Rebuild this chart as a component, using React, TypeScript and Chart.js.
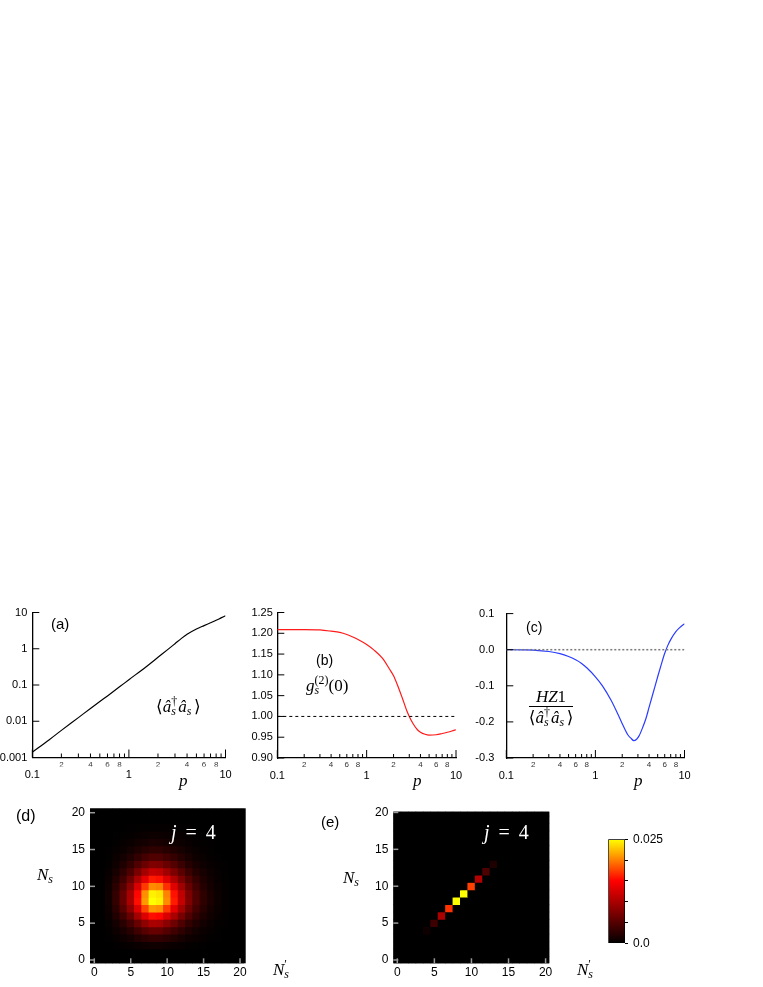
import React, { useEffect, useRef } from 'react';
import { Chart, registerables } from 'chart.js';

Chart.register(...registerables);

// ---------------- data ----------------
// panel (a): mean photon number vs p
const P_A = [0.1, 0.15, 0.2, 0.3, 0.4, 0.5, 0.6, 0.8, 1, 1.5, 2, 2.5, 3, 3.5, 4, 5, 6, 7, 8, 9, 10];
const NS_A = [0.0014, 0.0031, 0.0056, 0.0126, 0.0225, 0.035, 0.05, 0.089, 0.14, 0.315, 0.58, 0.93, 1.38, 1.93, 2.5, 3.5, 4.35, 5.2, 6.1, 7.1, 8.1];

// panel (b): g2(0) vs p
const P_B = [0.1, 0.2, 0.3, 0.4, 0.5, 0.6, 0.7, 0.8, 1, 1.2, 1.5, 1.8, 2, 2.2, 2.5, 2.8, 3, 3.3, 3.7, 4, 4.5, 5, 6, 7, 8, 9, 10];
const G2_B = [1.209, 1.209, 1.208, 1.205, 1.202, 1.197, 1.191, 1.185, 1.173, 1.16, 1.14, 1.114, 1.098, 1.077, 1.045, 1.015, 1.0, 0.983, 0.968, 0.962, 0.957, 0.955, 0.956, 0.959, 0.962, 0.965, 0.968];
const B_REF = 1.0;

// panel (c): HZ1 / <n> vs p
const P_C = [0.1, 0.15, 0.2, 0.3, 0.4, 0.5, 0.6, 0.7, 0.8, 1, 1.2, 1.5, 1.8, 2, 2.3, 2.5, 2.7, 2.9, 3.1, 3.4, 3.7, 4, 4.5, 5, 5.5, 6, 6.5, 7, 8, 9, 10];
const HZ_C = [0, -0.0003, -0.001, -0.005, -0.011, -0.019, -0.028, -0.038, -0.05, -0.075, -0.1, -0.14, -0.18, -0.205, -0.235, -0.245, -0.252, -0.248, -0.238, -0.215, -0.19, -0.16, -0.115, -0.075, -0.04, -0.01, 0.012, 0.028, 0.05, 0.063, 0.072];
const C_REF = 0.0;

// log x axis ticks
const X_TICKS = [0.1, 0.2, 0.3, 0.4, 0.5, 0.6, 0.7, 0.8, 0.9, 1, 2, 3, 4, 5, 6, 7, 8, 9, 10];
const X_MINOR_TEXT = ['', '2', '', '4', '', '6', '', '8', '', '', '2', '', '4', '', '6', '', '8', '', ''];
const X_MAJOR = [0.1, 1, 10];
const X_MAJOR_TEXT = ['0.1', '1', '10'];

const A_Y_TICKS = [0.001, 0.01, 0.1, 1, 10];
const A_Y_TEXT = ['0.001', '0.01', '0.1', '1', '10'];
const B_Y_TICKS = [0.9, 0.95, 1.0, 1.05, 1.1, 1.15, 1.2, 1.25];
const B_Y_TEXT = ['0.90', '0.95', '1.00', '1.05', '1.10', '1.15', '1.20', '1.25'];
const C_Y_TICKS = [-0.3, -0.2, -0.1, 0, 0.1];
const C_Y_TEXT = ['-0.3', '-0.2', '-0.1', '0.0', '0.1'];

// heat maps: photon-number distributions (units of 1e-3), row = N_s, column = N'_s
const N_VALUES = [0, 1, 2, 3, 4, 5, 6, 7, 8, 9, 10, 11, 12, 13, 14, 15, 16, 17, 18, 19, 20];
const HEAT_TICKS = [0, 5, 10, 15, 20];
const Z = [0, 0, 0, 0, 0, 0, 0, 0, 0, 0, 0, 0, 0, 0, 0, 0, 0, 0, 0, 0, 0];
const DIST_D = [
  Z,
  Z,
  [0, 0, 0.04, 0.12, 0.24, 0.4, 0.62, 0.84, 1.0, 0.98, 0.82, 0.64, 0.46, 0.3, 0.19, 0.11, 0.06, 0.03, 0.01, 0, 0],
  [0, 0, 0.12, 0.36, 0.72, 1.2, 1.86, 2.52, 3.0, 2.94, 2.46, 1.92, 1.38, 0.9, 0.57, 0.33, 0.18, 0.09, 0.04, 0, 0],
  [0, 0, 0.24, 0.72, 1.44, 2.4, 3.72, 5.04, 6.0, 5.88, 4.92, 3.84, 2.76, 1.8, 1.14, 0.66, 0.36, 0.18, 0.07, 0, 0],
  [0, 0, 0.4, 1.2, 2.4, 4.0, 6.2, 8.4, 10.0, 9.8, 8.2, 6.4, 4.6, 3.0, 1.9, 1.1, 0.6, 0.3, 0.12, 0, 0],
  [0, 0, 0.62, 1.86, 3.72, 6.2, 9.61, 13.02, 15.5, 15.19, 12.71, 9.92, 7.13, 4.65, 2.95, 1.71, 0.93, 0.47, 0.19, 0, 0],
  [0, 0, 0.84, 2.52, 5.04, 8.4, 13.02, 17.64, 21.0, 20.58, 17.22, 13.44, 9.66, 6.3, 3.99, 2.31, 1.26, 0.63, 0.25, 0, 0],
  [0, 0, 1.0, 3.0, 6.0, 10.0, 15.5, 21.0, 25.0, 24.5, 20.5, 16.0, 11.5, 7.5, 4.75, 2.75, 1.5, 0.75, 0.3, 0, 0],
  [0, 0, 0.98, 2.94, 5.88, 9.8, 15.19, 20.58, 24.5, 24.01, 20.09, 15.68, 11.27, 7.35, 4.66, 2.7, 1.47, 0.74, 0.29, 0, 0],
  [0, 0, 0.82, 2.46, 4.92, 8.2, 12.71, 17.22, 20.5, 20.09, 16.81, 13.12, 9.43, 6.15, 3.9, 2.26, 1.23, 0.62, 0.25, 0, 0],
  [0, 0, 0.64, 1.92, 3.84, 6.4, 9.92, 13.44, 16.0, 15.68, 13.12, 10.24, 7.36, 4.8, 3.04, 1.76, 0.96, 0.48, 0.19, 0, 0],
  [0, 0, 0.46, 1.38, 2.76, 4.6, 7.13, 9.66, 11.5, 11.27, 9.43, 7.36, 5.29, 3.45, 2.19, 1.27, 0.69, 0.35, 0.14, 0, 0],
  [0, 0, 0.3, 0.9, 1.8, 3.0, 4.65, 6.3, 7.5, 7.35, 6.15, 4.8, 3.45, 2.25, 1.43, 0.83, 0.45, 0.23, 0.09, 0, 0],
  [0, 0, 0.19, 0.57, 1.14, 1.9, 2.95, 3.99, 4.75, 4.66, 3.9, 3.04, 2.19, 1.43, 0.9, 0.52, 0.29, 0.14, 0.06, 0, 0],
  [0, 0, 0.11, 0.33, 0.66, 1.1, 1.71, 2.31, 2.75, 2.7, 2.26, 1.76, 1.27, 0.83, 0.52, 0.3, 0.17, 0.08, 0.03, 0, 0],
  [0, 0, 0.06, 0.18, 0.36, 0.6, 0.93, 1.26, 1.5, 1.47, 1.23, 0.96, 0.69, 0.45, 0.29, 0.17, 0.09, 0.05, 0.02, 0, 0],
  [0, 0, 0.03, 0.09, 0.18, 0.3, 0.47, 0.63, 0.75, 0.74, 0.62, 0.48, 0.35, 0.23, 0.14, 0.08, 0.05, 0.02, 0.01, 0, 0],
  [0, 0, 0.01, 0.04, 0.07, 0.12, 0.19, 0.25, 0.3, 0.29, 0.25, 0.19, 0.14, 0.09, 0.06, 0.03, 0.02, 0.01, 0, 0, 0],
  Z,
  Z,
];
// panel (e): only diagonal cells N_s = N'_s are populated
const DIAG_E_N = [4, 5, 6, 7, 8, 9, 10, 11, 12, 13];
const DIAG_E_VAL = [0.8, 3.5, 10, 17, 25, 25.5, 17.5, 10.5, 4.5, 1.8];

// colour bar (units of 1e-3)
const CB_MAX = 25;
const CB_TICKS = [0, 5, 10, 15, 20, 25];
const CB_TEXT = ['0.0', '', '', '', '', '0.025'];

// ---------------- styling helpers ----------------
const SANS = '"Liberation Sans", Arial, Helvetica, sans-serif';
const SERIF = '"Liberation Serif", "DejaVu Serif", "Times New Roman", serif';

function heatColor(v: number) {
  const t = Math.max(0, Math.min(1, v / CB_MAX));
  const r = Math.round(255 * Math.min(1, t / 0.6));
  const g = Math.round(255 * Math.max(0, (t - 0.6) / 0.4));
  return `rgb(${r},${g},0)`;
}

const inTicks = {
  id: 'inTicks',
  afterDatasetsDraw(chart: any, _args: any, opts: any) {
    const { ctx, chartArea } = chart;
    if (!chartArea) return;
    ctx.save();
    ctx.strokeStyle = opts.color || '#000';
    ctx.lineWidth = opts.width || 1;
    const xs = chart.scales.x;
    const ys = chart.scales.y;
    (opts.x || []).forEach(([v, len]: [number, number]) => {
      const px = xs.getPixelForValue(v);
      ctx.beginPath();
      ctx.moveTo(px, chartArea.bottom);
      ctx.lineTo(px, chartArea.bottom - len);
      ctx.stroke();
    });
    (opts.y || []).forEach(([v, len]: [number, number]) => {
      const py = ys.getPixelForValue(v);
      ctx.beginPath();
      ctx.moveTo(chartArea.left, py);
      ctx.lineTo(chartArea.left + len, py);
      ctx.stroke();
    });
    ctx.restore();
  },
};

const plotBg = {
  id: 'plotBg',
  beforeDatasetsDraw(chart: any, _args: any, opts: any) {
    const { ctx, chartArea } = chart;
    if (!chartArea || !opts.color) return;
    ctx.save();
    ctx.fillStyle = opts.color;
    ctx.fillRect(chartArea.left, chartArea.top, chartArea.right - chartArea.left, chartArea.bottom - chartArea.top);
    ctx.restore();
  },
};

function lineConfig(p: any) {
  return {
    type: 'line',
    data: { datasets: p.datasets },
    options: {
      responsive: false,
      animation: false,
      events: [],
      layout: { padding: { left: 0, top: p.padTop, right: p.padRight, bottom: 0 } },
      plugins: {
        legend: { display: false },
        tooltip: { enabled: false },
        inTicks: {
          color: '#000',
          width: 1,
          x: X_TICKS.map((v) => [v, X_MAJOR.includes(v) ? 8 : 4]),
          y: p.yTicks.map((v: number) => [v, 7]),
        },
      },
      scales: {
        x: {
          type: 'logarithmic',
          position: 'bottom',
          weight: 0,
          min: 0.1,
          max: 10,
          afterBuildTicks: (s: any) => {
            s.ticks = X_TICKS.map((v) => ({ value: v }));
          },
          afterFit: (s: any) => {
            s.height = p.hMinor;
          },
          grid: { display: false, drawTicks: false },
          border: { display: true, color: '#000', width: 1.3 },
          ticks: {
            autoSkip: false,
            maxRotation: 0,
            padding: 2,
            color: '#333',
            font: { family: SANS, size: 8 },
            callback: (_v: any, i: number) => X_MINOR_TEXT[i],
          },
        },
        x2: {
          type: 'logarithmic',
          position: 'bottom',
          axis: 'x',
          weight: 1,
          min: 0.1,
          max: 10,
          afterBuildTicks: (s: any) => {
            s.ticks = X_MAJOR.map((v) => ({ value: v }));
          },
          afterFit: (s: any) => {
            s.height = p.hMajor;
          },
          grid: { display: false, drawTicks: false },
          border: { display: false },
          ticks: {
            autoSkip: false,
            maxRotation: 0,
            padding: 2,
            color: '#000',
            font: { family: SANS, size: 11 },
            callback: (_v: any, i: number) => X_MAJOR_TEXT[i],
          },
        },
        y: {
          type: p.yType,
          position: 'left',
          min: p.yMin,
          max: p.yMax,
          afterBuildTicks: (s: any) => {
            s.ticks = p.yTicks.map((v: number) => ({ value: v }));
          },
          afterFit: (s: any) => {
            s.width = p.yWidth;
          },
          grid: { display: false, drawTicks: false },
          border: { display: true, color: '#000', width: 1.3 },
          ticks: {
            autoSkip: false,
            padding: p.yPad,
            color: '#000',
            font: { family: SANS, size: 11 },
            callback: (_v: any, i: number) => p.yText[i],
          },
        },
      },
    },
    plugins: [inTicks],
  };
}

function heatConfig(p: any) {
  const data: any[] = [];
  const colors: string[] = [];
  N_VALUES.forEach((m) => {
    N_VALUES.forEach((n) => {
      data.push({ x: n, y: [m - 0.5, m + 0.5] });
      colors.push(heatColor(p.matrix[m][n]));
    });
  });
  return {
    type: 'bar',
    data: {
      datasets: [
        {
          data,
          backgroundColor: colors,
          borderWidth: 0,
          categoryPercentage: 1,
          barPercentage: 1,
        },
      ],
    },
    options: {
      responsive: false,
      animation: false,
      events: [],
      layout: { padding: { left: 0, top: p.padTop, right: p.padRight, bottom: 0 } },
      plugins: {
        legend: { display: false },
        tooltip: { enabled: false },
        plotBg: { color: '#000' },
        inTicks: {
          color: '#9a9a9a',
          width: 1.5,
          x: HEAT_TICKS.map((v) => [v, 5]),
          y: HEAT_TICKS.map((v) => [v, 5]),
        },
      },
      scales: {
        x: {
          type: 'linear',
          position: 'bottom',
          offset: false,
          min: p.xMin,
          max: p.xMax,
          afterBuildTicks: (s: any) => {
            s.ticks = HEAT_TICKS.map((v) => ({ value: v }));
          },
          afterFit: (s: any) => {
            s.height = p.xHeight;
          },
          grid: { display: false, drawTicks: false },
          border: { display: false },
          ticks: {
            autoSkip: false,
            maxRotation: 0,
            padding: 2,
            color: '#000',
            font: { family: SANS, size: 12 },
            callback: (v: any) => String(v),
          },
        },
        y: {
          type: 'linear',
          position: 'left',
          min: p.yMin,
          max: p.yMax,
          afterBuildTicks: (s: any) => {
            s.ticks = HEAT_TICKS.map((v) => ({ value: v }));
          },
          afterFit: (s: any) => {
            s.width = p.yWidth;
          },
          grid: { display: false, drawTicks: false },
          border: { display: false },
          ticks: {
            autoSkip: false,
            padding: 5,
            color: '#000',
            font: { family: SANS, size: 12 },
            callback: (v: any) => String(v),
          },
        },
      },
    },
    plugins: [plotBg, inTicks],
  };
}

function colorbarConfig() {
  return {
    type: 'bar',
    data: {
      labels: [''],
      datasets: [
        {
          data: [[0, CB_MAX]],
          backgroundColor: (c: any) => {
            const ch = c.chart;
            if (!ch.chartArea) return '#000';
            const y = ch.scales.y;
            const g = ch.ctx.createLinearGradient(0, y.getPixelForValue(0), 0, y.getPixelForValue(CB_MAX));
            [0, 0.6, 1].forEach((t) => g.addColorStop(t, heatColor(t * CB_MAX)));
            return g;
          },
          borderColor: '#000',
          borderWidth: 1,
          borderSkipped: false,
          categoryPercentage: 1,
          barPercentage: 1,
        },
      ],
    },
    options: {
      responsive: false,
      animation: false,
      events: [],
      layout: { padding: { left: 18.3, top: 19.3, right: 0, bottom: 16.7 } },
      plugins: { legend: { display: false }, tooltip: { enabled: false } },
      scales: {
        x: { display: false, offset: true },
        y: {
          position: 'right',
          min: 0,
          max: CB_MAX,
          afterBuildTicks: (s: any) => {
            s.ticks = CB_TICKS.map((v) => ({ value: v }));
          },
          afterFit: (s: any) => {
            s.width = 75;
          },
          grid: { display: true, drawOnChartArea: false, drawTicks: true, tickLength: 3, color: '#000' },
          border: { display: false },
          ticks: {
            autoSkip: false,
            padding: 5,
            color: '#000',
            font: { family: SANS, size: 12 },
            callback: (_v: any, i: number) => CB_TEXT[i],
          },
        },
      },
    },
  };
}

// ---------------- text helpers ----------------
function Txt({ x, y, size, font, color, children, style }: any) {
  return (
    <div
      style={{
        position: 'absolute',
        left: x,
        top: y,
        fontSize: size,
        lineHeight: `${size}px`,
        fontFamily: font,
        color: color || '#000',
        whiteSpace: 'nowrap',
        ...style,
      }}
    >
      {children}
    </div>
  );
}

function SS({ size, sup, sub, w }: any) {
  const s = size * 0.7;
  return (
    <span style={{ position: 'relative', display: 'inline-block', width: w, height: 0 }}>
      {sup != null && (
        <span style={{ position: 'absolute', left: 0, top: -size * 0.97, fontSize: s, lineHeight: `${s}px` }}>{sup}</span>
      )}
      {sub != null && (
        <span style={{ position: 'absolute', left: 0, top: -size * 0.35, fontSize: s, lineHeight: `${s}px` }}>{sub}</span>
      )}
    </span>
  );
}

function NumOp({ size }: any) {
  return (
    <span>
      ⟨<i>â</i>
      <SS size={size} sup="†" sub={<i>s</i>} w={size * 0.42} />
      <i>â</i>
      <SS size={size} sub={<i>s</i>} w={size * 0.42} />⟩
    </span>
  );
}

export default function App() {
  const rA = useRef<HTMLCanvasElement>(null);
  const rB = useRef<HTMLCanvasElement>(null);
  const rC = useRef<HTMLCanvasElement>(null);
  const rD = useRef<HTMLCanvasElement>(null);
  const rE = useRef<HTMLCanvasElement>(null);
  const rCB = useRef<HTMLCanvasElement>(null);

  useEffect(() => {
    const matE = N_VALUES.map((m) =>
      N_VALUES.map((n) => {
        const k = DIAG_E_N.indexOf(n);
        return m === n && k >= 0 ? DIAG_E_VAL[k] : 0;
      })
    );
    const charts: Chart[] = [];
    charts.push(
      new Chart(
        rA.current as any,
        lineConfig({
          padTop: 17.5,
          padRight: 19.5,
          hMinor: 9,
          hMajor: 33.5,
          yWidth: 32.3,
          yPad: 5,
          yType: 'logarithmic',
          yMin: 0.001,
          yMax: 10,
          yTicks: A_Y_TICKS,
          yText: A_Y_TEXT,
          datasets: [
            {
              data: P_A.map((p, i) => ({ x: p, y: NS_A[i] })),
              borderColor: '#000',
              borderWidth: 1.2,
              pointRadius: 0,
              cubicInterpolationMode: 'monotone',
            },
          ],
        }) as any
      )
    );
    charts.push(
      new Chart(
        rB.current as any,
        lineConfig({
          padTop: 17.5,
          padRight: 20,
          hMinor: 9.5,
          hMajor: 32.5,
          yWidth: 37.3,
          yPad: 4.5,
          yType: 'linear',
          yMin: 0.9,
          yMax: 1.25,
          yTicks: B_Y_TICKS,
          yText: B_Y_TEXT,
          datasets: [
            {
              data: [
                { x: 0.1, y: B_REF },
                { x: 10, y: B_REF },
              ],
              borderColor: '#000',
              borderWidth: 1,
              borderDash: [3, 3],
              pointRadius: 0,
            },
            {
              data: P_B.map((p, i) => ({ x: p, y: G2_B[i] })),
              borderColor: '#ff1a1a',
              borderWidth: 1.2,
              pointRadius: 0,
              cubicInterpolationMode: 'monotone',
            },
          ],
        }) as any
      )
    );
    charts.push(
      new Chart(
        rC.current as any,
        lineConfig({
          padTop: 17.5,
          padRight: 20.5,
          hMinor: 9.5,
          hMajor: 32.5,
          yWidth: 36.3,
          yPad: 12,
          yType: 'linear',
          yMin: -0.3,
          yMax: 0.1,
          yTicks: C_Y_TICKS,
          yText: C_Y_TEXT,
          datasets: [
            {
              data: [
                { x: 0.1, y: C_REF },
                { x: 10, y: C_REF },
              ],
              borderColor: '#7a7a7a',
              borderWidth: 1.5,
              borderDash: [2, 2],
              pointRadius: 0,
            },
            {
              data: P_C.map((p, i) => ({ x: p, y: HZ_C[i] })),
              borderColor: '#2a3cff',
              borderWidth: 1.2,
              pointRadius: 0,
              cubicInterpolationMode: 'monotone',
            },
          ],
        }) as any
      )
    );
    charts.push(
      new Chart(
        rD.current as any,
        heatConfig({
          matrix: DIST_D,
          padTop: 13.3,
          padRight: 19.3,
          xHeight: 23.7,
          yWidth: 35,
          xMin: -0.59,
          xMax: 20.78,
          yMin: -0.45,
          yMax: 20.6,
        }) as any
      )
    );
    charts.push(
      new Chart(
        rE.current as any,
        heatConfig({
          matrix: matE,
          padTop: 16.7,
          padRight: 20.7,
          xHeight: 23.7,
          yWidth: 38.3,
          xMin: -0.54,
          xMax: 20.5,
          yMin: -0.45,
          yMax: 20.1,
        }) as any
      )
    );
    charts.push(new Chart(rCB.current as any, colorbarConfig() as any));
    return () => charts.forEach((c) => c.destroy());
  }, []);

  const cv = (x: number, y: number, w: number, h: number) => ({
    position: 'absolute' as const,
    left: x,
    top: y,
    width: w,
    height: h,
  });

  return (
    <div style={{ position: 'absolute', left: 0, top: 0, width: 763, height: 987, background: '#fff', overflow: 'hidden' }}>
      <canvas ref={rA} width={245} height={205} style={cv(0, 595, 245, 205)} />
      <canvas ref={rB} width={236} height={205} style={cv(240, 595, 236, 205)} />
      <canvas ref={rC} width={235} height={205} style={cv(470, 595, 235, 205)} />
      <canvas ref={rD} width={210} height={192} style={cv(55, 795, 210, 192)} />
      <canvas ref={rE} width={215} height={192} style={cv(355, 795, 215, 192)} />
      <canvas ref={rCB} width={110} height={140} style={cv(590, 820, 110, 140)} />

      {/* panel letters */}
      <Txt x={51} y={616} size={15} font={SANS}>(a)</Txt>
      <Txt x={316} y={653} size={14} font={SANS}>(b)</Txt>
      <Txt x={526} y={620} size={14} font={SANS}>(c)</Txt>
      <Txt x={16} y={808} size={16} font={SANS}>(d)</Txt>
      <Txt x={321} y={814} size={15} font={SANS}>(e)</Txt>

      {/* quantity labels */}
      <Txt x={156} y={698} size={17} font={SERIF}>
        <NumOp size={17} />
      </Txt>
      <Txt x={306} y={677} size={17} font={SERIF}>
        <i>g</i>
        <SS size={17} sup="(2)" sub={<i>s</i>} w={14} />
        (0)
      </Txt>
      <Txt x={527} y={688} size={17} font={SERIF} style={{ width: 48, textAlign: 'center' }}>
        <i>HZ</i>1
      </Txt>
      <div style={{ position: 'absolute', left: 529, top: 706, width: 44, height: 0, borderTop: '1px solid #000' }} />
      <Txt x={525} y={709} size={17} font={SERIF} style={{ width: 52, textAlign: 'center' }}>
        <NumOp size={17} />
      </Txt>

      {/* x axis symbol p */}
      <Txt x={179} y={772} size={17} font={SERIF}><i>p</i></Txt>
      <Txt x={413} y={772} size={17} font={SERIF}><i>p</i></Txt>
      <Txt x={634} y={772} size={17} font={SERIF}><i>p</i></Txt>

      {/* heat map labels */}
      <Txt x={37} y={866} size={17} font={SERIF}>
        <i>N</i>
        <SS size={17} sub={<i>s</i>} w={7} />
      </Txt>
      <Txt x={343} y={869} size={17} font={SERIF}>
        <i>N</i>
        <SS size={17} sub={<i>s</i>} w={7} />
      </Txt>
      <Txt x={273} y={961} size={17} font={SERIF}>
        <i>N</i>
        <SS size={17} sup="′" sub={<i>s</i>} w={7} />
      </Txt>
      <Txt x={577} y={961} size={17} font={SERIF}>
        <i>N</i>
        <SS size={17} sup="′" sub={<i>s</i>} w={7} />
      </Txt>
      <Txt x={171} y={822} size={20} font={SERIF} color="#fff">
        <i>j</i>
        <span style={{ margin: '0 0.45em' }}>=</span>4
      </Txt>
      <Txt x={484} y={822} size={20} font={SERIF} color="#fff">
        <i>j</i>
        <span style={{ margin: '0 0.45em' }}>=</span>4
      </Txt>
    </div>
  );
}
